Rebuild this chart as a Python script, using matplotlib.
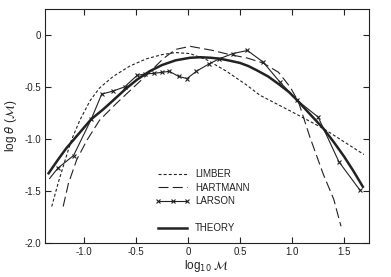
import numpy as np
import matplotlib
matplotlib.use('Agg')
import matplotlib.pyplot as plt
from matplotlib.lines import Line2D

plt.rcParams['font.family'] = ['Liberation Sans', 'DejaVu Sans']
plt.rcParams['axes.unicode_minus'] = False

# values (log10 M, log theta(M))
limber_x = [-1.31, -1.25, -1.18, -1.12, -1.04, -0.94, -0.85, -0.72, -0.56, -0.40,
            -0.25, -0.12, 0.02, 0.18, 0.37, 0.56, 0.69, 0.98, 1.30, 1.69]
limber_y = [-1.65, -1.43, -1.20, -1.01, -0.82, -0.63, -0.51, -0.40, -0.30, -0.23,
            -0.19, -0.17, -0.18, -0.24, -0.35, -0.48, -0.58, -0.73, -0.90, -1.15]

hartmann_x = [-1.20, -1.15, -1.07, -0.97, -0.85, -0.69, -0.53, -0.38, -0.24, -0.12,
              0.02, 0.24, 0.40, 0.56, 0.72, 0.87, 0.98, 1.06, 1.17, 1.30, 1.40, 1.47]
hartmann_y = [-1.65, -1.43, -1.20, -1.01, -0.82, -0.66, -0.51, -0.37, -0.23, -0.14,
              -0.11, -0.15, -0.19, -0.22, -0.27, -0.36, -0.50, -0.64, -0.98, -1.34, -1.58, -1.84]

larson_x = [-1.33, -1.25, -1.10, -0.93, -0.83, -0.72, -0.61, -0.49, -0.41, -0.33,
            -0.25, -0.18, -0.09, -0.01, 0.08, 0.20, 0.30, 0.43, 0.57, 0.72,
            0.88, 1.05, 1.25, 1.45, 1.65]
larson_y = [-1.38, -1.28, -1.16, -0.81, -0.57, -0.54, -0.50, -0.39, -0.375, -0.37,
            -0.36, -0.35, -0.40, -0.42, -0.35, -0.28, -0.23, -0.18, -0.15, -0.26,
            -0.45, -0.63, -0.79, -1.22, -1.49]

theory_x = [-1.34, -1.25, -1.17, -1.05, -0.93, -0.82, -0.72, -0.60, -0.49, -0.37,
            -0.25, -0.12, 0.02, 0.12, 0.22, 0.31, 0.41, 0.50, 0.58, 0.66,
            0.77, 0.88, 0.97, 1.05, 1.17, 1.30, 1.40, 1.50, 1.59, 1.68]
theory_y = [-1.33, -1.20, -1.09, -0.95, -0.81, -0.72, -0.63, -0.52, -0.43, -0.35,
            -0.29, -0.245, -0.22, -0.215, -0.22, -0.23, -0.25, -0.27, -0.30, -0.34,
            -0.40, -0.48, -0.55, -0.63, -0.76, -0.90, -1.03, -1.17, -1.31, -1.46]

xticks = [-1.0, -0.5, 0, 0.5, 1.0, 1.5]
xtick_labels = ['-1.0', '-0.5', '0', '0.5', '1.0', '1.5']
yticks = [0, -0.5, -1.0, -1.5, -2.0]
ytick_labels = ['0', '-0.5', '-1.0', '-1.5', '-2.0']

ink = '#222222'

fig = plt.figure(figsize=(3.91, 2.77), dpi=100)
ax = fig.add_axes([0.115, 0.123, 0.829, 0.845])

short_dash = (0, (2.7, 1.9))
long_dash = (0, (9, 3.8))

ax.plot(limber_x, limber_y, color=ink, lw=0.8, linestyle=short_dash)
ax.plot(hartmann_x, hartmann_y, color=ink, lw=0.8, linestyle=long_dash)
ax.plot(larson_x, larson_y, color=ink, lw=0.8)
ax.plot(larson_x[1:], larson_y[1:], color=ink, lw=0, marker='x', ms=3, mew=0.8)
ax.plot(theory_x, theory_y, color=ink, lw=1.8, solid_joinstyle='round')

ax.set_xlim(-1.375, 1.74)
ax.set_ylim(-2.0, 0.25)
ax.set_xticks(xticks)
ax.set_xticklabels(xtick_labels)
ax.set_yticks(yticks)
ax.set_yticklabels(ytick_labels)
ax.tick_params(direction='in', length=4, width=0.8, top=True, right=True,
               labelsize=7, colors=ink, pad=3)
for s in ax.spines.values():
    s.set_linewidth(0.8)
    s.set_color(ink)

ax.set_xlabel(r'log$_{10}$ $\mathcal{M}$', fontsize=8.5, color=ink, labelpad=1)
ax.set_ylabel(r'log $\theta$ ($\mathcal{M}$)', fontsize=8.5, color=ink, labelpad=4)

handles = [
    Line2D([], [], color=ink, lw=0.8, linestyle=short_dash),
    Line2D([], [], color=ink, lw=0.8, linestyle=long_dash),
    Line2D([], [], color=ink, lw=0.8, marker='x', ms=3, mew=0.8),
    Line2D([], [], lw=0),
    Line2D([], [], color=ink, lw=1.8),
]
labels = ['LIMBER', 'HARTMANN', 'LARSON', '', 'THEORY']
leg = ax.legend(handles, labels, loc='upper left', bbox_to_anchor=(0.325, 0.335),
                frameon=False, fontsize=7, handlelength=3.6, handletextpad=0.5,
                labelspacing=0.35, borderpad=0, numpoints=3)
for t in leg.get_texts():
    t.set_color(ink)

fig.savefig('out.png', dpi=100)
